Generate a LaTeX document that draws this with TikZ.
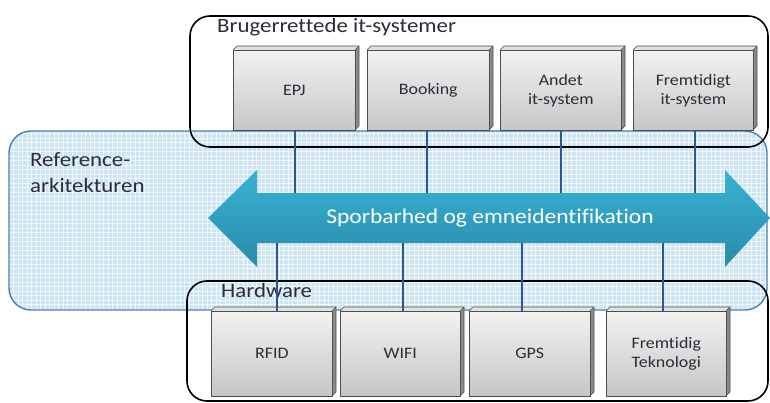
\documentclass[tikz,border=0pt]{standalone}
\usepackage{fontspec}
\setmainfont{Carlito}[Ligatures={NoCommon}, FakeStretch=1.12]
\usetikzlibrary{calc}
\definecolor{gridfill}{HTML}{CCE5F1}
\definecolor{refborder}{HTML}{4A7EBB}
\definecolor{linkblue}{HTML}{2F5597}
\definecolor{arrowtop}{HTML}{38B2D4}
\definecolor{arrowbot}{HTML}{2A8BAA}
\definecolor{labelink}{HTML}{2C2C3A}
\definecolor{facetop}{HTML}{F2F2F2}
\definecolor{facebot}{HTML}{C6C6C6}
\definecolor{edgegray}{HTML}{4D4D4D}
\tikzset{
  groupbox/.style={draw=black, line width=1.6pt, rounded corners=20pt},
  link/.style={draw=linkblue, line width=1.2pt},
  lbl/.style={text=labelink, font=\fontsize{16}{19}\selectfont, align=center},
  grouptitle/.style={text=labelink, anchor=base west, inner sep=0pt, font=\fontsize{20.4}{24}\selectfont},
}
% 3D-looking system box: front face from (#1,#2) to (#3,#4), depth 4
\newcommand{\sysbox}[6]{%
  \fill[facebot!70!black] (#3,#2) -- (#3+4,#2-4) -- (#3+4,#4-4) -- (#3,#4) -- cycle;
  \fill[facetop!85!gray] (#1,#2) -- (#1+4,#2-4) -- (#3+4,#2-4) -- (#3,#2) -- cycle;
  \draw[edgegray, line width=0.6pt] (#1,#2) -- (#1+4,#2-4) -- (#3+4,#2-4) -- (#3+4,#4-4) -- (#3,#4);
  \draw[edgegray, line width=0.6pt] (#3,#2) -- (#3+4,#2-4);
  \node[draw=edgegray, line width=0.6pt, top color=facetop, bottom color=facebot,
        minimum width=#3-#1, minimum height=#4-#2, inner sep=0pt, anchor=north west,
        lbl] (#5) at (#1,#2) {#6};
}
\begin{document}
\begin{tikzpicture}[x=1pt,y=-1pt]
\useasboundingbox (0,0) rectangle (770,403);
% reference architecture band with fine grid fill
\begin{scope}
  \clip[rounded corners=22pt] (9,131) rectangle (767,310);
  \fill[gridfill] (0,120) rectangle (770,320);
  \foreach \gx in {0,4.5,...,770} \draw[white, line width=0.9pt, opacity=0.7] (\gx,120) -- (\gx,320);
  \foreach \gy in {120,124.5,...,320} \draw[white, line width=0.9pt, opacity=0.7] (0,\gy) -- (770,\gy);
\end{scope}
\draw[refborder, line width=1.4pt, rounded corners=22pt] (9,131) rectangle (767,310);
\node[grouptitle] (reftitle) at (30,167) {Reference-};
\node[grouptitle] (reftitle2) at (30,193) {arkitekturen};
% group frames
\draw[groupbox] (190,16) rectangle (768,147);
\node[grouptitle] (usertitle) at (217,33) {Brugerrettede it-systemer};
\draw[groupbox] (187,281) rectangle (768,401);
\node[grouptitle] (hwtitle) at (221,297) {Hardware};
% user-facing systems
\sysbox{233}{50}{355}{130}{epj}{EPJ}
\sysbox{367}{50}{489}{130}{booking}{Booking}
\sysbox{500}{50}{621}{130}{andet}{Andet\\it-system}
\sysbox{633}{50}{753}{130}{fremsys}{Fremtidigt\\it-system}
% hardware
\sysbox{211}{311}{332}{396}{rfid}{RFID}
\sysbox{340}{311}{460}{396}{wifi}{WIFI}
\sysbox{469}{311}{590}{396}{gps}{GPS}
\sysbox{606}{311}{726}{396}{fremtek}{Fremtidig\\Teknologi}
% double-headed arrow
\coordinate (al) at (208,218);
\coordinate (ar) at (770,218);
\shade[top color=arrowtop, bottom color=arrowbot]
  (al) -- (257,170) -- (257,193) -- (725,193) -- (725,170) -- (ar)
  -- (725,267) -- (725,243) -- (257,243) -- (257,267) -- cycle;
\node[text=white, font=\fontsize{21}{24}\selectfont] (trace) at (490,218) {Sporbarhed og emneidentifikation};
% links from systems to the arrow
\coordinate (t1) at (295,193); \coordinate (t2) at (427,193);
\coordinate (t3) at (561,193); \coordinate (t4) at (695,193);
\draw[link] (epj.south -| t1) -- (t1);
\draw[link] (booking.south -| t2) -- (t2);
\draw[link] (andet.south -| t3) -- (t3);
\draw[link] (fremsys.south -| t4) -- (t4);
\coordinate (b1) at (277,243); \coordinate (b2) at (403,243);
\coordinate (b3) at (522,243); \coordinate (b4) at (663,243);
\draw[link] (b1) -- (rfid.north -| b1);
\draw[link] (b2) -- (wifi.north -| b2);
\draw[link] (b3) -- (gps.north -| b3);
\draw[link] (b4) -- (fremtek.north -| b4);
\end{tikzpicture}
\end{document}
